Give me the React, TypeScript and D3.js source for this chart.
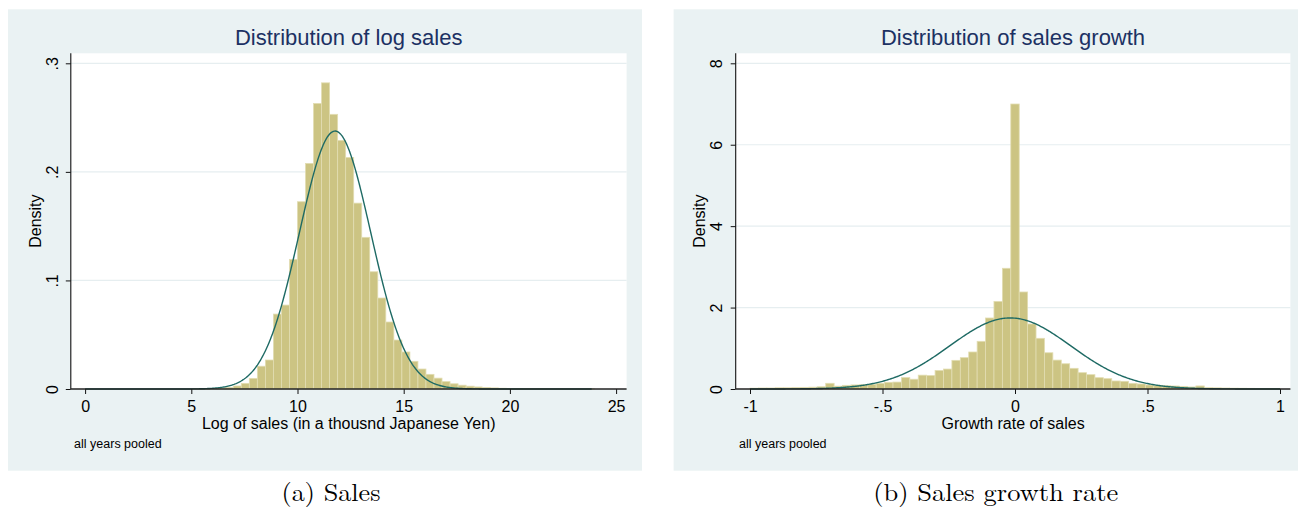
"use client"

import { useEffect, useRef } from "react"
import * as d3 from "d3"

// Log sales histogram: density per bin, bins start at salesBinStart
const salesBinStart = 0.172
const salesBinWidth = 0.378
const salesDensity = [
  0, 0, 0, 0, 0, 0, 0, 0, 0, 0,
  0, 0, 0, 0.0001, 0.0002, 0.0004, 0.0008, 0.0015, 0.0028, 0.0052,
  0.0098, 0.021, 0.0267, 0.069, 0.0773, 0.1194, 0.1725, 0.2078, 0.263, 0.282,
  0.253, 0.229, 0.2133, 0.1712, 0.1397, 0.108, 0.0838, 0.0617, 0.0451, 0.0341,
  0.0255, 0.0184, 0.0135, 0.01, 0.0068, 0.0048, 0.0035, 0.0026, 0.0019, 0.0014,
  0.001, 0.0007, 0.0005, 0.0004, 0.0003, 0.0002, 0.0002, 0.0001, 0.0001, 0.0001,
  0.0001, 0.0001, 0.0001,
]
// fitted normal over the data range
const salesMean = 11.77
const salesSd = 1.679
const salesRange = [0, 23.85]
const salesTicksX = [0, 5, 10, 15, 20, 25]
const salesTicksY = [0, 0.1, 0.2, 0.3]

// Sales growth histogram
const growthBinStart = -1
const growthBinWidth = 2 / 63
const growthDensity = [
  0.02, 0.025, 0.025, 0.03, 0.03, 0.035, 0.04, 0.045, 0.055, 0.14,
  0.07, 0.09, 0.1, 0.106, 0.115, 0.14, 0.164, 0.17, 0.28, 0.24,
  0.34, 0.33, 0.455, 0.49, 0.704, 0.77, 0.909, 1.171, 1.744, 2.15,
  2.965, 7.0, 2.383, 1.597, 1.245, 0.89, 0.71, 0.62, 0.508, 0.401,
  0.352, 0.278, 0.254, 0.197, 0.188, 0.139, 0.123, 0.098, 0.09, 0.08,
  0.074, 0.065, 0.05, 0.075, 0.032, 0.028, 0.024, 0.02, 0.018, 0.016,
  0.014, 0.012, 0.01,
]
const growthMean = -0.018
const growthSd = 0.2286
const growthRange = [-1, 1]
const growthTicksX = [-1, -0.5, 0, 0.5, 1]
const growthTicksY = [0, 2, 4, 6, 8]

const SANS = "'Liberation Sans', Arial, Helvetica, sans-serif"
const SERIF = "'Latin Modern Roman', 'CMU Serif', 'Liberation Serif', serif"

interface PanelSpec {
  title: string
  xLabel: string
  caption: string
  binStart: number
  binWidth: number
  density: number[]
  mean: number
  sd: number
  range: number[]
  ticksX: number[]
  ticksY: number[]
  // layout
  boxLeft: number
  boxRight: number
  plotLeft: number
  plotRight: number
  xStart: number
  xEnd: number
  captionX: number
  captionLength: number
}

const boxTop = 9.3
const boxBottom = 470.7
const plotTop = 53.3
const plotBottom = 389
const topTickY = 63.3

// Stata style labels: .5 instead of 0.5
const fmt = (d: number) => String(d).replace("0.", ".")

function drawPanel(svg: d3.Selection<SVGSVGElement, unknown, null, undefined>, p: PanelSpec) {
  const g = svg.append("g")

  g.append("rect")
    .attr("x", p.boxLeft)
    .attr("y", boxTop)
    .attr("width", p.boxRight - p.boxLeft)
    .attr("height", boxBottom - boxTop)
    .attr("fill", "#EAF2F3")

  g.append("rect")
    .attr("x", p.plotLeft)
    .attr("y", plotTop)
    .attr("width", p.plotRight - p.plotLeft)
    .attr("height", plotBottom - plotTop)
    .attr("fill", "#fff")

  const x = d3
    .scaleLinear()
    .domain([p.ticksX[0], p.ticksX[p.ticksX.length - 1]])
    .range([p.xStart, p.xEnd])
  const y = d3
    .scaleLinear()
    .domain([0, p.ticksY[p.ticksY.length - 1]])
    .range([plotBottom, topTickY])

  // grid lines
  g.selectAll(".grid")
    .data(p.ticksY.slice(1))
    .join("line")
    .attr("class", "grid")
    .attr("x1", p.plotLeft)
    .attr("x2", p.plotRight)
    .attr("y1", (d) => y(d))
    .attr("y2", (d) => y(d))
    .attr("stroke", "#E6EEF0")
    .attr("stroke-width", 1.2)

  // bars
  const bins = p.density.map((d, i) => ({ x0: p.binStart + i * p.binWidth, d }))
  g.selectAll(".bar")
    .data(bins.filter((b) => b.d > 0))
    .join("rect")
    .attr("class", "bar")
    .attr("x", (b) => x(b.x0))
    .attr("width", (b) => x(b.x0 + p.binWidth) - x(b.x0))
    .attr("y", (b) => y(b.d))
    .attr("height", (b) => plotBottom - y(b.d))
    .attr("fill", "#CCC483")
    .attr("stroke", "#E2DDB2")
    .attr("stroke-width", 0.8)

  // normal density
  const pdf = (v: number) =>
    Math.exp(-0.5 * ((v - p.mean) / p.sd) ** 2) / (p.sd * Math.sqrt(2 * Math.PI))
  const xs = d3.range(p.range[0], p.range[1] + 1e-9, (p.range[1] - p.range[0]) / 500)
  g.append("path")
    .datum(xs)
    .attr(
      "d",
      d3
        .line<number>()
        .x((v) => x(v))
        .y((v) => y(pdf(v))),
    )
    .attr("fill", "none")
    .attr("stroke", "#1E6A64")
    .attr("stroke-width", 1.4)

  // y axis
  const yAxis = g
    .append("g")
    .attr("transform", `translate(${p.plotLeft},0)`)
    .call(d3.axisLeft(y).tickValues(p.ticksY).tickSize(5).tickSizeOuter(0).tickFormat((d) => fmt(d as number)))
  yAxis.select(".domain").remove()
  yAxis.selectAll("line").attr("stroke", "#111")
  yAxis
    .selectAll("text")
    .attr("transform", "rotate(-90)")
    .attr("x", 0)
    .attr("y", -19)
    .attr("dy", "0.36em")
    .attr("text-anchor", "middle")
    .attr("font-family", SANS)
    .attr("font-size", 16)
    .attr("fill", "#000")
  g.append("line")
    .attr("x1", p.plotLeft)
    .attr("x2", p.plotLeft)
    .attr("y1", plotTop)
    .attr("y2", plotBottom)
    .attr("stroke", "#111")
    .attr("stroke-width", 1.1)

  // x axis
  const xAxis = g
    .append("g")
    .attr("transform", `translate(0,${plotBottom})`)
    .call(
      d3
        .axisBottom(x)
        .tickValues(p.ticksX)
        .tickSize(5)
        .tickPadding(6.3)
        .tickSizeOuter(0)
        .tickFormat((d) => fmt(d as number)),
    )
  xAxis.select(".domain").remove()
  xAxis.selectAll("line").attr("stroke", "#111")
  xAxis.selectAll("text").attr("font-family", SANS).attr("font-size", 16).attr("fill", "#000")
  g.append("line")
    .attr("x1", p.plotLeft)
    .attr("x2", p.plotRight)
    .attr("y1", plotBottom)
    .attr("y2", plotBottom)
    .attr("stroke", "#222")
    .attr("stroke-width", 1.3)

  const midX = (p.plotLeft + p.plotRight) / 2

  // texts
  g.append("text")
    .attr("x", midX)
    .attr("y", 45)
    .attr("text-anchor", "middle")
    .attr("font-family", SANS)
    .attr("font-size", 22)
    .attr("fill", "#1C3163")
    .text(p.title)

  g.append("text")
    .attr("transform", `translate(${p.plotLeft - 36},${(plotTop + plotBottom) / 2}) rotate(-90)`)
    .attr("dy", "0.36em")
    .attr("text-anchor", "middle")
    .attr("font-family", SANS)
    .attr("font-size", 16)
    .attr("fill", "#000")
    .text("Density")

  g.append("text")
    .attr("x", midX)
    .attr("y", 429)
    .attr("text-anchor", "middle")
    .attr("font-family", SANS)
    .attr("font-size", 16)
    .attr("fill", "#000")
    .text(p.xLabel)

  g.append("text")
    .attr("x", p.plotLeft + 3.3)
    .attr("y", 448)
    .attr("font-family", SANS)
    .attr("font-size", 12.5)
    .attr("fill", "#000")
    .text("all years pooled")

  g.append("text")
    .attr("x", p.captionX)
    .attr("y", 501)
    .attr("text-anchor", "middle")
    .attr("font-family", SERIF)
    .attr("font-size", 25)
    .attr("textLength", p.captionLength)
    .attr("lengthAdjust", "spacingAndGlyphs")
    .attr("fill", "#000")
    .text(p.caption)
}

const App = () => {
  const svgRef = useRef<SVGSVGElement | null>(null)

  useEffect(() => {
    if (!svgRef.current) return
    const svg = d3.select(svgRef.current)
    svg.selectAll("*").remove()

    drawPanel(svg, {
      title: "Distribution of log sales",
      xLabel: "Log of sales (in a thousnd Japanese Yen)",
      caption: "(a) Sales",
      binStart: salesBinStart,
      binWidth: salesBinWidth,
      density: salesDensity,
      mean: salesMean,
      sd: salesSd,
      range: salesRange,
      ticksX: salesTicksX,
      ticksY: salesTicksY,
      boxLeft: 8,
      boxRight: 642,
      plotLeft: 70.8,
      plotRight: 626.6,
      xStart: 85.1,
      xEnd: 616.1,
      captionX: 331,
      captionLength: 99,
    })

    drawPanel(svg, {
      title: "Distribution of sales growth",
      xLabel: "Growth rate of sales",
      caption: "(b) Sales growth rate",
      binStart: growthBinStart,
      binWidth: growthBinWidth,
      density: growthDensity,
      mean: growthMean,
      sd: growthSd,
      range: growthRange,
      ticksX: growthTicksX,
      ticksY: growthTicksY,
      boxLeft: 673.6,
      boxRight: 1298,
      plotLeft: 735.7,
      plotRight: 1290.4,
      xStart: 750,
      xEnd: 1280,
      captionX: 995.7,
      captionLength: 245,
    })
  }, [])

  return (
    <div style={{ position: "absolute", left: 0, top: 0, width: 1298, height: 508, background: "#fff" }}>
      <svg ref={svgRef} width={1298} height={508} />
    </div>
  )
}

export default App
